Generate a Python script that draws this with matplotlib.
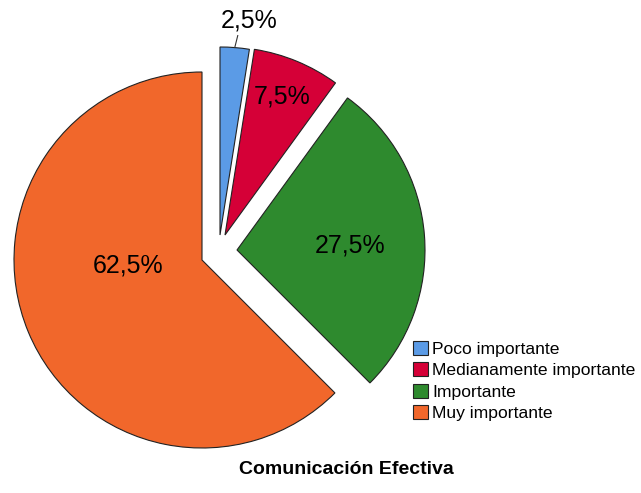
import numpy as np
import matplotlib
matplotlib.use("Agg")
import matplotlib.pyplot as plt

# datos del grafico
categorias = ["Poco importante", "Medianamente importante", "Importante", "Muy importante"]
porcentajes = [2.5, 7.5, 27.5, 62.5]
etiquetas = ["2,5%", "7,5%", "27,5%", "62,5%"]
colores = ["#5B9BE6", "#D50037", "#2E8A2E", "#F1672B"]
titulo = "Comunicación Efectiva"

plt.rcParams['font.family'] = ['Liberation Sans', 'DejaVu Sans']

W, H = 641, 493
fig = plt.figure(figsize=(W / 100, H / 100), dpi=100)
ax = fig.add_axes([0, 0, 1, 1])

centro = (202, 233)
radio = 188
# desplazamiento de cada porcion (pixeles)
desplaza = [(18, 25), (23, 25), (35, 10), (0, 0)]
# posicion de la etiqueta: distancia relativa al radio, giro en grados
pos_etq = [(1.15, -3.2), (0.80, 0), (0.60, -2), (0.394, -18.6)]

wedges, _ = ax.pie(porcentajes, colors=colores, startangle=90, counterclock=False,
                   center=centro, radius=radio,
                   wedgeprops=dict(edgecolor="#222222", linewidth=0.8))

for w, (dx, dy), (d, giro), txt in zip(wedges, desplaza, pos_etq, etiquetas):
    cx, cy = centro[0] + dx, centro[1] + dy
    w.set_center((cx, cy))
    mid = np.deg2rad((w.theta1 + w.theta2) / 2 + giro)
    tx = cx + d * radio * np.cos(mid)
    ty = cy + d * radio * np.sin(mid)
    ax.text(tx, ty, txt, ha="center", va="center", fontsize=18, color="black")
    if d > 1:
        # linea guia de la etiqueta exterior
        a = np.deg2rad((w.theta1 + w.theta2) / 2)
        x0, y0 = cx + radio * np.cos(a), cy + radio * np.sin(a)
        ax.plot([x0, x0 + 3], [y0, y0 + 12], color="#333333", lw=0.8)

ax.set_xlim(0, W)
ax.set_ylim(0, H)
ax.set_aspect("equal")
ax.axis("off")

ax.legend(wedges, categorias, loc="upper left",
          bbox_to_anchor=(413 / W, 1 - 341 / H), bbox_transform=fig.transFigure,
          frameon=False, fontsize=12.6, handlelength=0.85, handleheight=0.85,
          handletextpad=0.25, labelspacing=0.3, borderpad=0, borderaxespad=0)

fig.text(346 / W, 1 - 470 / H, titulo, ha="center", va="center",
         fontsize=14, fontweight="bold")

fig.savefig("out.png", dpi=100)
